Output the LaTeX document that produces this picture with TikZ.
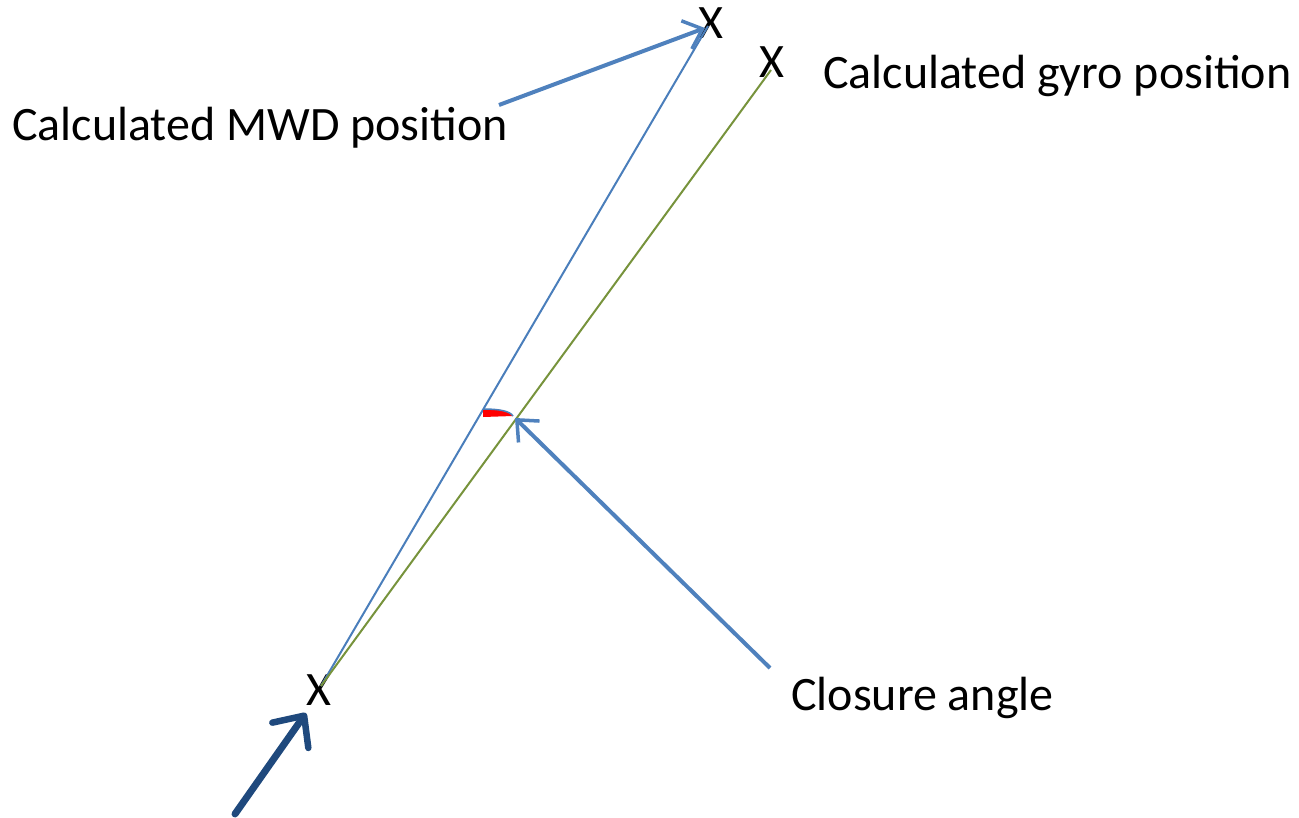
\documentclass[tikz,border=0pt]{standalone}
\usepackage{fontspec}
\setmainfont{Carlito}
\usetikzlibrary{arrows.meta}
\definecolor{lineblue}{HTML}{4A7EBB}
\definecolor{linegreen}{HTML}{77933C}
\definecolor{arrblue}{HTML}{4F81BD}
\definecolor{darkblue}{HTML}{1F497D}
\tikzset{
  lbl/.style={font=\fontsize{48}{56}\selectfont, inner sep=0pt, anchor=base west},
  xmark/.style={font=\fontsize{48}{56}\selectfont, inner sep=0pt},
  thinline/.style={line width=2pt},
  pointer/.style={arrblue, line width=4pt, -{Straight Barb[length=17pt, width=30pt, line width=3.5pt]}},
  bigpointer/.style={darkblue, line width=7pt, line cap=round, -{Straight Barb[length=24pt, width=44pt, line width=6.5pt, round]}}
}
\begin{document}
\begin{tikzpicture}[x=1pt, y=-1pt]
\useasboundingbox (0,0) rectangle (1299,818);
% X marks
\node[xmark] (xmwd) at (711,23) {X};
\node[xmark] (xgyro) at (772,62) {X};
\node[xmark] (xstart) at (319,690) {X};
% labels
\node[lbl] (tmwd) at (12,141) {Calculated MWD position};
\node[lbl] (tgyro) at (823,89) {Calculated gyro position};
\node[lbl] (tclos) at (791,710) {Closure angle};
% lines
\coordinate (o) at (321,686);
\coordinate (mwdend) at (708,26);
\coordinate (gyroend) at (771,70);
\draw[lineblue, thinline] (o) -- (mwdend);
\draw[linegreen, thinline] (o) -- (gyroend);
% closure angle marker
\fill[red] (483,409) .. controls (499,409) and (510,411) .. (513,416) -- (483,417) -- cycle;
\draw[lineblue, line width=1.5pt] (483,409) .. controls (499,409) and (510,411) .. (513,416);
% pointers
\coordinate (mwdtail) at (499,105);
\coordinate (mwdtip) at (705,28);
\draw[pointer] (mwdtail) -- (mwdtip);
\coordinate (clostail) at (770,668);
\coordinate (clostip) at (515,418);
\draw[pointer] (clostail) -- (clostip);
\coordinate (bigtail) at (235,814);
\coordinate (bigtip) at (306,713);
\draw[bigpointer] (bigtail) -- (bigtip);
\end{tikzpicture}
\end{document}
